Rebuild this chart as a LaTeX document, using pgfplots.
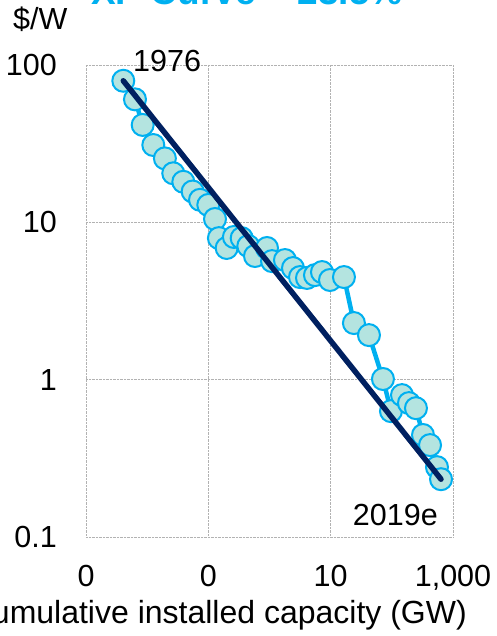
\documentclass[border=0pt]{standalone}
\usepackage{fontspec}
\setmainfont{Liberation Sans}
\usepackage{pgfplots}
\pgfplotsset{compat=1.18}
\definecolor{cyanline}{RGB}{0,176,240}
\definecolor{markfill}{RGB}{180,228,224}
\definecolor{navy}{RGB}{0,32,96}
\newcommand\lbl{\fontsize{30.5}{36}\selectfont}
\begin{document}
\begin{tikzpicture}
\begin{axis}[name=ax, at={(0,0)}, anchor=south west,
  scale only axis, width=367pt, height=472pt,
  xmode=log, ymode=log,
  xmin=0.001, xmax=1000, ymin=0.1, ymax=100,
  xtick={0.001,0.1,10,1000}, xticklabels={0,0,10,{1,000}},
  ytick={0.1,1,10,100}, yticklabels={0.1,1,10,100},
  minor xtick={}, minor ytick={},
  axis line style={draw=none},
  tick style={draw=none},
  major tick length=0pt,
  grid=major,
  major grid style={densely dotted, black!30, line width=0.8pt},
  tick label style={font=\lbl, inner sep=0pt},
  xticklabel style={anchor=north, yshift=-28pt},
  yticklabel style={anchor=east, xshift=-29pt},
  clip=false, clip mode=individual,
]
\addplot[cyanline, line width=4.5pt, mark=*, mark size=11pt,
  mark options={fill=markfill, draw=cyanline, line width=2pt, solid}]
coordinates {
(0.00407,79.4) (0.00632,60.5) (0.00845,41.6) (0.0126,31.0) (0.0195,25.5)
(0.0267,20.5) (0.0390,18.1) (0.0554,15.7) (0.0731,13.9) (0.0998,12.9)
(0.1285,10.5) (0.149,7.94) (0.1995,6.87) (0.262,8.07) (0.351,7.94)
(0.450,7.07) (0.579,6.11) (0.910,6.87) (1.10,5.67) (1.79,5.76)
(2.42,5.12) (3.15,4.49) (4.10,4.43) (5.54,4.62) (7.21,4.83)
(9.75,4.30) (16.5,4.49) (24.0,2.29) (42.3,1.92) (71.6,1.01)
(96.8,0.631) (146.6,0.798) (190.6,0.710) (248,0.659) (323,0.445)
(421,0.384) (547,0.278) (637,0.233)
};
\addplot[navy, line width=5.5pt, line cap=round] coordinates {(0.00407,79.4) (637,0.233)};
\end{axis}
\begin{scope}[shift={(ax.south west)}]
\node[anchor=base, font=\fontsize{37}{44}\selectfont\bfseries, text=cyanline] at (161pt,532pt) {XP Curve = 23.5\%};
\node[anchor=base west, font=\lbl, inner sep=0pt] at (-73pt,507pt) {\$/W};
\node[anchor=base west, font=\lbl, inner sep=0pt] at (47pt,465pt) {1976};
\node[anchor=base east, font=\lbl, inner sep=0pt] at (352pt,11pt) {2019e};
\node[anchor=base east, font=\fontsize{32}{38}\selectfont, inner sep=0pt] at (381pt,-86pt) {Cumulative installed capacity (GW)};
\pgfresetboundingbox
\path[use as bounding box] (-86pt,-99pt) rectangle (410pt,537pt);
\end{scope}
\end{tikzpicture}
\end{document}
